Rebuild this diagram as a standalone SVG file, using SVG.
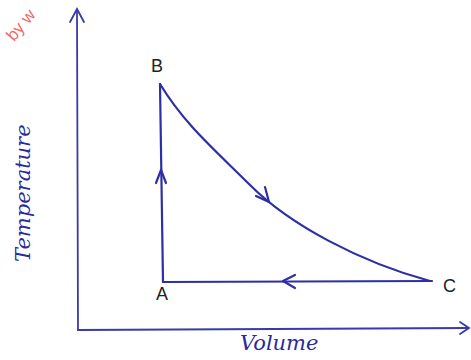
<svg xmlns="http://www.w3.org/2000/svg" width="471" height="360" viewBox="0 0 471 360">
<style>
.ln{fill:none;stroke:#2e2ea6;stroke-width:2.2;stroke-linecap:round;stroke-linejoin:round}
.ax{fill:none;stroke:#3a3aa8;stroke-width:1.8;stroke-linecap:round}
.lbl{font-family:"Liberation Sans",Arial,sans-serif;font-size:18px;fill:#222}
.hw{font-family:"DejaVu Serif","Liberation Serif",serif;font-style:italic;font-size:21px;fill:#2a2a9e}
</style>
<rect width="471" height="360" fill="#fff"/>
<text x="14" y="42" transform="rotate(-50 14 42)" font-family="Liberation Sans,Arial,sans-serif" font-size="17" fill="#f06a6a">by w</text>
<g id="axes">
<path class="ax" d="M78 330 L77 10"/>
<path class="ax" d="M70 22 L77 9 L84 22"/>
<path class="ax" d="M78 330 L468 328"/>
<path class="ax" d="M460 322 L469 328 L460 334"/>
</g>
<text class="hw" transform="translate(30 262) rotate(-90)">Temperature</text>
<text class="hw" x="240" y="350">Volume</text>
<g id="connectors">
<path class="ln" d="M163 282 L160 84"/>
<path class="ln" d="M156 183 L161 170 L166 183"/>
<path class="ln" d="M160 84 C185 125 215 150 250 185 C290 225 360 262 430 281"/>
<path class="ln" d="M256 196 L269 202 L265 187"/>
<path class="ln" d="M163 282 L432 281"/>
<path class="ln" d="M295 275 L283 281 L295 288"/>
</g>
<g id="nodeB"><text class="lbl" x="151" y="72">B</text></g>
<g id="nodeA"><text class="lbl" x="156" y="300">A</text></g>
<g id="nodeC"><text class="lbl" x="443" y="292">C</text></g>
</svg>
